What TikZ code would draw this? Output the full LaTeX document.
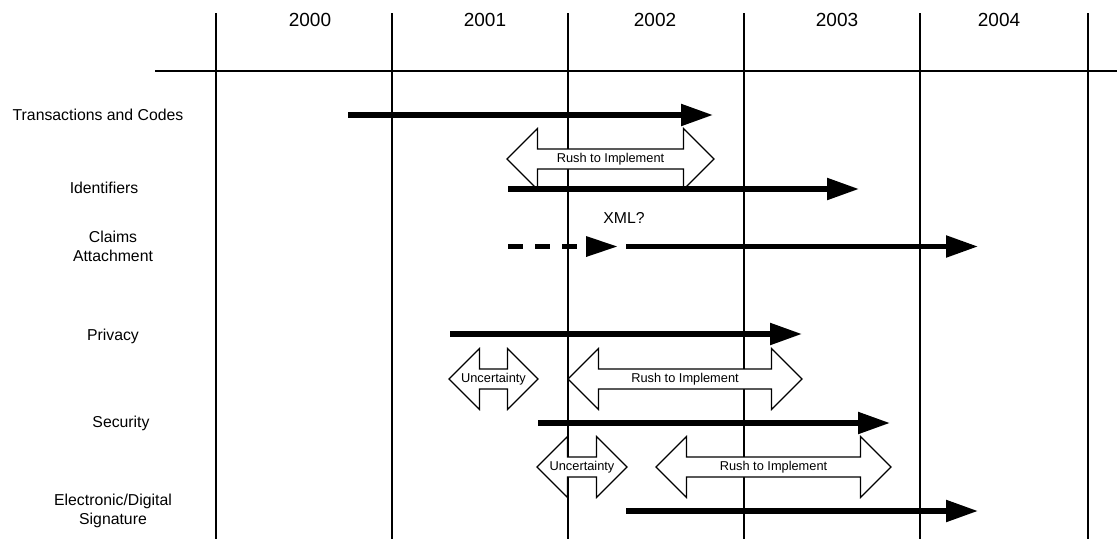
\documentclass[tikz,border=0pt]{standalone}
\usepackage{fontspec}
\setmainfont{Liberation Sans}
\usetikzlibrary{arrows.meta}
\newcommand\dblarr[5]{% name, left tip x, right tip x, centre y, label
  \draw[dbl] (#2,#4) -- ++(30.5,-30.5) -- ++(0,20.5) -- ({#3-30.5},{#4-10}) -- ++(0,-20.5)
    -- (#3,#4) -- ++(-30.5,30.5) -- ++(0,-20.5) -- ({#2+30.5},{#4+10}) -- ++(0,20.5) -- cycle;
  \node[small] (#1) at ({(#2+#3)/2},#4) {#5};}
\begin{document}
\begin{tikzpicture}[x=1pt,y=-1pt,
  grid/.style={line width=2pt},
  bar/.style={line width=5.3pt,-{Triangle[length=32pt,width=21pt]}},
  dbl/.style={draw,line width=1.1pt,fill=white,line join=miter},
  lab/.style={font=\fontsize{15.8}{18.6}\selectfont,align=center,inner sep=0pt},
  yr/.style={font=\fontsize{19}{22}\selectfont,inner sep=0pt},
  small/.style={font=\fontsize{12.8}{14}\selectfont,inner sep=0pt}]
\useasboundingbox (0,0) rectangle (1117,539);
% grid
\foreach \x in {216,392,568,744,920,1088} { \draw[grid] (\x,13) -- (\x,539); }
\draw[grid] (155,71) -- (1117,71);
% years
\node[yr] (y2000) at (310,20) {2000};
\node[yr] (y2001) at (485,20) {2001};
\node[yr] (y2002) at (655,20) {2002};
\node[yr] (y2003) at (837,20) {2003};
\node[yr] (y2004) at (999,20) {2004};
% row labels
\node[lab] (l1) at (98,115) {Transactions and Codes};
\node[lab] (l2) at (104,188) {Identifiers};
\node[lab] (l3) at (113,246.5) {Claims\\Attachment};
\node[lab] (l4) at (113,336) {Privacy};
\node[lab] (l5) at (121,423) {Security};
\node[lab] (l6) at (113,511) {Electronic/Digital\\Signature};
% double arrows
\dblarr{r1}{507}{714}{159}{Rush to Implement}
\dblarr{u1}{449}{538}{379}{Uncertainty}
\dblarr{r2}{568}{802}{379}{Rush to Implement}
\dblarr{u2}{537}{627}{467}{Uncertainty}
\dblarr{r3}{656}{891}{467}{Rush to Implement}
% bars
\draw[bar] (348,115) -- (713,115);
\draw[bar] (508,189) -- (859,189);
\draw[line width=5.3pt,dash pattern=on 15pt off 12pt] (508,246.5) -- (577,246.5);
\fill (586,236) -- (617,246.5) -- (586,257) -- cycle;
\node[lab] (xml) at (624,218) {XML?};
\draw[bar] (626,246.5) -- (978,246.5);
\draw[bar] (450,334) -- (802,334);
\draw[bar] (538,423) -- (890,423);
\draw[bar] (626,511) -- (978,511);
\end{tikzpicture}
\end{document}
